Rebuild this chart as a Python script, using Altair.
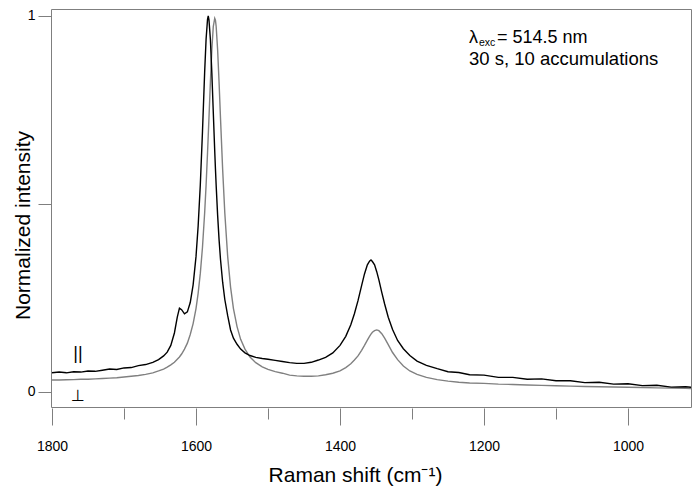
import altair as alt
import pandas as pd

# ---------------- data ----------------
raman_shift = [
    1800, 1790, 1780, 1770, 1760, 1750, 1740, 1730, 1720, 1710,
    1700, 1690, 1680, 1670, 1660, 1652, 1645, 1640, 1635, 1630,
    1626, 1623, 1620, 1616, 1612, 1608, 1604, 1600, 1597, 1594,
    1591, 1588, 1586, 1584, 1583, 1582, 1580, 1578, 1576, 1574,
    1573, 1572, 1570, 1568, 1566, 1563, 1560, 1556, 1552, 1548,
    1543, 1538, 1532, 1525, 1517, 1508, 1500, 1490, 1480, 1470,
    1460, 1450, 1440, 1430, 1420, 1410, 1400, 1392, 1385, 1380,
    1375, 1370, 1366, 1362, 1359, 1357, 1355, 1352, 1349, 1346,
    1342, 1338, 1333, 1327, 1320, 1312, 1303, 1293, 1280, 1265,
    1250, 1235, 1220, 1200, 1180, 1160, 1140, 1120, 1100, 1080,
    1060, 1040, 1020, 1000, 980, 960, 940, 920, 902,
]

parallel = [
    0.051, 0.053, 0.051, 0.054, 0.053, 0.056, 0.055, 0.058, 0.061, 0.060,
    0.064, 0.065, 0.070, 0.073, 0.079, 0.086, 0.096, 0.106, 0.124, 0.157,
    0.199, 0.223, 0.219, 0.208, 0.213, 0.238, 0.285, 0.360, 0.442, 0.552,
    0.693, 0.850, 0.938, 0.991, 1.000, 0.990, 0.937, 0.848, 0.744, 0.641,
    0.593, 0.549, 0.471, 0.406, 0.353, 0.292, 0.246, 0.203, 0.165, 0.143,
    0.127, 0.114, 0.104, 0.097, 0.092, 0.089, 0.087, 0.084, 0.081, 0.078,
    0.076, 0.076, 0.079, 0.085, 0.092, 0.104, 0.124, 0.148, 0.179, 0.208,
    0.243, 0.283, 0.314, 0.338, 0.348, 0.351, 0.347, 0.338, 0.320, 0.298,
    0.265, 0.234, 0.199, 0.166, 0.137, 0.115, 0.097, 0.082, 0.071, 0.062,
    0.054, 0.052, 0.046, 0.045, 0.039, 0.039, 0.034, 0.035, 0.030, 0.030,
    0.025, 0.026, 0.021, 0.022, 0.017, 0.018, 0.013, 0.014, 0.011,
]

perpendicular = [
    0.032, 0.032, 0.0325, 0.033, 0.034, 0.034, 0.035, 0.036, 0.037, 0.038,
    0.040, 0.042, 0.044, 0.047, 0.051, 0.056, 0.061, 0.066, 0.072, 0.079,
    0.087, 0.093, 0.101, 0.114, 0.130, 0.153, 0.182, 0.222, 0.263, 0.316,
    0.385, 0.476, 0.550, 0.636, 0.682, 0.729, 0.825, 0.911, 0.972, 0.994,
    0.989, 0.972, 0.911, 0.825, 0.729, 0.592, 0.476, 0.360, 0.279, 0.222,
    0.174, 0.140, 0.114, 0.093, 0.078, 0.067, 0.060, 0.054, 0.050, 0.045,
    0.043, 0.042, 0.042, 0.043, 0.046, 0.050, 0.056, 0.065, 0.075, 0.085,
    0.096, 0.111, 0.124, 0.138, 0.148, 0.154, 0.159, 0.163, 0.165, 0.163,
    0.155, 0.143, 0.126, 0.105, 0.086, 0.069, 0.056, 0.047, 0.039, 0.033,
    0.029, 0.026, 0.024, 0.023, 0.021, 0.020, 0.0185, 0.0175, 0.0165, 0.0156,
    0.0148, 0.014, 0.0133, 0.0125, 0.0118, 0.011, 0.0104, 0.0096, 0.009,
]

x_ticks = [1800, 1700, 1600, 1500, 1400, 1300, 1200, 1100, 1000]
y_ticks = [0, 0.5, 1]

df = pd.DataFrame({"shift": raman_shift, "par": parallel, "perp": perpendicular})

# ---------------- styling ----------------
W, H = 640, 398
FONT = "Liberation Sans"
FRAME = "#7f7f7f"

xscale = alt.Scale(domain=[912.5, 1801.4], reverse=True, nice=False, zero=False)
yscale = alt.Scale(domain=[-0.0399, 1.0186], nice=False, zero=False)

xaxis = alt.Axis(
    values=x_ticks,
    format="d",
    labelExpr="datum.value % 200 === 0 ? datum.label : ''",
    tickSize={"condition": {"test": "datum.value % 200 === 0", "value": 17}, "value": 11},
    tickColor=FRAME,
    tickWidth=1,
    domain=False,
    grid=False,
    offset=1,
    labelFont=FONT,
    labelFontSize=14,
    labelColor="black",
    labelPadding=14,
    title="Raman shift (cm\u207b\u00b9)",
    titleFont=FONT,
    titleFontSize=21,
    titleFontWeight="normal",
    titleColor="black",
    titleX=304,
    titleY=73,
    titleAlign="center",
    titleBaseline="alphabetic",
)

yaxis = alt.Axis(
    values=y_ticks,
    labelExpr="datum.value == 0 ? '0' : (datum.value == 1 ? '1' : '')",
    tickSize=13,
    tickColor=FRAME,
    tickWidth=1,
    domain=False,
    grid=False,
    labelFont=FONT,
    labelFontSize=14,
    labelColor="black",
    labelPadding=3,
    title="Normalized intensity",
    titleFont=FONT,
    titleFontSize=21,
    titleFontWeight="normal",
    titleColor="black",
    titleX=-22,
    titleY=216,
    titleAngle=270,
    titleAlign="center",
    titleBaseline="alphabetic",
)

base = alt.Chart(df)

perp_line = base.mark_line(clip=True, color="#808080", strokeWidth=1.4).encode(
    x=alt.X("shift:Q", scale=xscale, axis=xaxis),
    y=alt.Y("perp:Q", scale=yscale, axis=yaxis),
)

par_line = base.mark_line(clip=True, color="#000000", strokeWidth=1.4).encode(
    x=alt.X("shift:Q", scale=xscale),
    y=alt.Y("par:Q", scale=yscale),
)


def label(text, x, y, size, font=FONT, align="left", baseline="alphabetic"):
    return alt.Chart(alt.Data(values=[{}])).mark_text(
        text=text, font=font, fontSize=size, align=align, baseline=baseline, color="black"
    ).encode(x=alt.value(x), y=alt.value(y))


annotations = [
    label("\u03bb", 418, 34, 18),
    label("exc", 428, 37, 10.5),
    label("= 514.5 nm", 446, 34, 18),
    label("30 s, 10 accumulations", 418, 56, 18.5),
    label("||", 27, 345, 18, align="center", baseline="middle"),
    label("\u22a5", 27, 387, 16, font="DejaVu Sans", align="center", baseline="middle"),
]

chart = alt.layer(perp_line, par_line, *annotations).properties(
    width=W,
    height=H,
    autosize=alt.AutoSizeParams(type="none"),
    padding={"left": 43, "top": 1, "right": 1, "bottom": 79},
).configure_view(stroke=FRAME, strokeWidth=1)

chart.save("out.html", embed_options={"renderer": "svg", "actions": False})
